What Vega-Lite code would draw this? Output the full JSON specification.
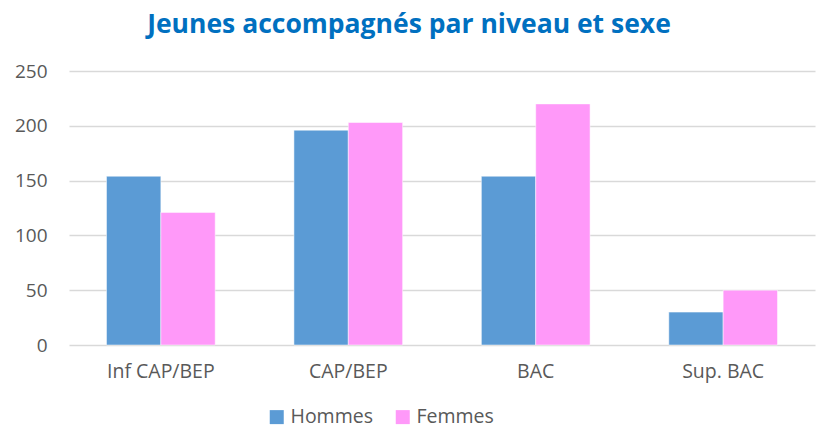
{
  "$schema": "https://vega.github.io/schema/vega-lite/v6.json",
  "autosize": {"type": "none"},
  "width": 746,
  "height": 274,
  "padding": {"left": 69, "top": 71, "right": 2, "bottom": 87},
  "background": "white",
  "title": {
    "text": "Jeunes accompagnés par niveau et sexe",
    "font": "Open Sans",
    "fontSize": 26.5,
    "fontWeight": "bold",
    "color": "#0070C0",
    "anchor": "middle",
    "frame": "group",
    "dx": -33,
    "offset": 24
  },
  "data": {
    "values": [
      {"niveau": "Inf CAP/BEP", "sexe": "Hommes", "valeur": 154},
      {"niveau": "Inf CAP/BEP", "sexe": "Femmes", "valeur": 121},
      {"niveau": "CAP/BEP", "sexe": "Hommes", "valeur": 196},
      {"niveau": "CAP/BEP", "sexe": "Femmes", "valeur": 203},
      {"niveau": "BAC", "sexe": "Hommes", "valeur": 154},
      {"niveau": "BAC", "sexe": "Femmes", "valeur": 220},
      {"niveau": "Sup. BAC", "sexe": "Hommes", "valeur": 30},
      {"niveau": "Sup. BAC", "sexe": "Femmes", "valeur": 50}
    ]
  },
  "mark": {"type": "bar", "stroke": "white", "strokeWidth": 0.5},
  "encoding": {
    "x": {
      "field": "niveau",
      "type": "nominal",
      "sort": ["Inf CAP/BEP", "CAP/BEP", "BAC", "Sup. BAC"],
      "scale": {"paddingInner": 0.42, "paddingOuter": 0.2},
      "axis": {
        "title": null,
        "labelAngle": 0,
        "domain": false,
        "ticks": false,
        "labelFont": "Open Sans",
        "labelFontSize": 19.5,
        "labelColor": "#595959",
        "labelPadding": 17
      }
    },
    "xOffset": {
      "field": "sexe",
      "type": "nominal",
      "sort": ["Hommes", "Femmes"],
      "scale": {"paddingInner": 0, "paddingOuter": 0}
    },
    "y": {
      "field": "valeur",
      "type": "quantitative",
      "scale": {"domain": [0, 250], "nice": false},
      "axis": {
        "title": null,
        "values": [0, 50, 100, 150, 200, 250],
        "domain": false,
        "ticks": false,
        "grid": true,
        "gridColor": "#D9D9D9",
        "gridWidth": 1.5,
        "labelFont": "Open Sans",
        "labelFontSize": 19,
        "labelColor": "#595959",
        "labelPadding": 22
      }
    },
    "color": {
      "field": "sexe",
      "type": "nominal",
      "sort": ["Hommes", "Femmes"],
      "scale": {"domain": ["Hommes", "Femmes"], "range": ["#5B9BD5", "#FF99F9"]},
      "legend": {
        "title": null,
        "orient": "none",
        "direction": "horizontal",
        "legendX": 198,
        "legendY": 336,
        "symbolType": "square",
        "symbolSize": 196,
        "symbolStrokeWidth": 0,
        "labelFont": "Open Sans",
        "labelFontSize": 19.5,
        "labelColor": "#595959",
        "labelOffset": 4,
        "columnPadding": 20
      }
    }
  },
  "config": {"view": {"stroke": null}}
}
